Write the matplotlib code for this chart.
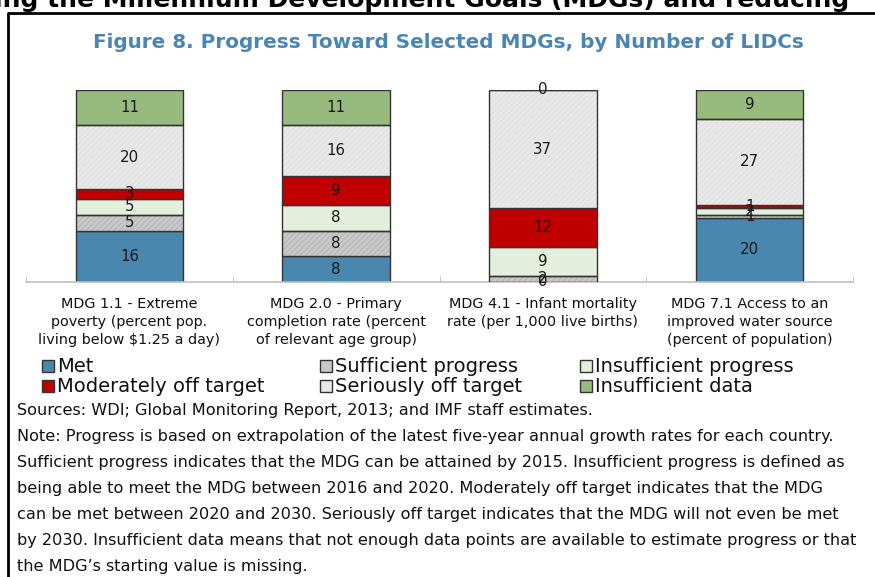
import matplotlib
matplotlib.use('Agg')
import matplotlib.pyplot as plt
from matplotlib.patches import Rectangle
from matplotlib.lines import Line2D
import numpy as np

plt.rcParams['font.family'] = ['DejaVu Sans']

# Dados do gráfico (número de LIDCs)
categories = [
    "MDG 1.1 - Extreme\npoverty (percent pop.\nliving below $1.25 a day)",
    "MDG 2.0 - Primary\ncompletion rate (percent\nof relevant age group)",
    "MDG 4.1 - Infant mortality\nrate (per 1,000 live births)\n",
    "MDG 7.1 Access to an\nimproved water source\n(percent of population)",
]
series_names = ["Met", "Sufficient progress", "Insufficient progress",
                "Moderately off target", "Seriously off target", "Insufficient data"]
met = [16, 8, 0, 20]
sufficient = [5, 8, 2, 1]
insufficient = [5, 8, 9, 2]
moderately = [3, 9, 12, 1]
seriously = [20, 16, 37, 27]
no_data = [11, 11, 0, 9]

series_values = [met, sufficient, insufficient, moderately, seriously, no_data]
colors = ['#4A87AE', '#C9C9C9', '#E4EEDC', '#C00000', '#E9E9E9', '#97BB7C']
hatches = [None, '//////', None, None, '//////', None]
hatch_colors = [None, '#B4B4B4', None, None, '#DEDEDE', None]

W, H = 875, 577
fig = plt.figure(figsize=(W / 100, H / 100), dpi=100)


def fx(x):
    return x / W


def fy(y):
    return 1 - y / H


ax = fig.add_axes([fx(26), fy(282), fx(853) - fx(26), fy(90) - fy(282)])
x = np.arange(len(categories))
bottom = np.zeros(len(categories))
width = 0.52
plt.rcParams['hatch.linewidth'] = 0.8
for vals, col, hat, hcol in zip(series_values, colors, hatches, hatch_colors):
    vals = np.array(vals, dtype=float)
    if hat:
        ax.bar(x, vals, width, bottom=bottom, color=col, edgecolor=hcol,
               hatch=hat, linewidth=0, zorder=2)
        ax.bar(x, vals, width, bottom=bottom, fill=False, edgecolor='#333333',
               linewidth=1.0, zorder=3)
    else:
        ax.bar(x, vals, width, bottom=bottom, color=col, edgecolor='#333333',
               linewidth=1.0, zorder=2)
    for xi, b, v in zip(x, bottom, vals):
        ax.text(xi, b + v / 2, f"{int(v)}", ha='center', va='center',
                fontsize=10.8, color='#1a1a1a', zorder=4, clip_on=False)
    bottom += vals

ax.set_xlim(-0.5, 3.5)
ax.set_ylim(0, 60)
for s in ['top', 'left', 'right']:
    ax.spines[s].set_visible(False)
ax.spines['bottom'].set_color('#BFBFBF')
ax.spines['bottom'].set_linewidth(1.2)
ax.set_yticks([])
ax.set_xticks(x)
ax.set_xticklabels(categories, fontsize=10.4, linespacing=1.35, color='#111111')
ax.tick_params(axis='x', which='major', length=0, pad=11)
ax.set_xticks(np.arange(-0.5, 4.0, 1.0), minor=True)
ax.tick_params(axis='x', which='minor', direction='in', length=4, color='#BFBFBF')
ax.patch.set_visible(False)

# Legenda manual (2 linhas x 3 colunas)
leg_pos = [(42, 366), (320, 366), (580, 366), (42, 386), (320, 386), (580, 386)]
for name, col, (lx, ly) in zip(series_names, colors, leg_pos):
    fig.patches.append(Rectangle((fx(lx), fy(ly + 6)), fx(12), 12 / H, transform=fig.transFigure,
                                 facecolor=col, edgecolor='#333333', linewidth=1.0))
    fig.text(fx(lx + 15), fy(ly), name, fontsize=14, va='center', ha='left', color='#111111')

# Título
fig.text(fx(448), fy(42), "Figure 8. Progress Toward Selected MDGs, by Number of LIDCs",
         fontsize=14.4, fontweight='bold', color='#4A86B4', ha='center', va='center')

# Cabeçalho cortado do documento
fig.text(fx(-6), fy(7), "ing the Millennium Development Goals (MDGs) and reducing",
         fontsize=18, fontweight='bold', color='black', ha='left', va='baseline')

# Moldura
fig.lines.append(Line2D([fx(8), fx(8), fx(880)], [fy(580), fy(13), fy(13)],
                        transform=fig.transFigure, color='black', linewidth=2))

notes = [
    "Sources: WDI; Global Monitoring Report, 2013; and IMF staff estimates.",
    "Note: Progress is based on extrapolation of the latest five-year annual growth rates for each country.",
    "Sufficient progress indicates that the MDG can be attained by 2015. Insufficient progress is defined as",
    "being able to meet the MDG between 2016 and 2020. Moderately off target indicates that the MDG",
    "can be met between 2020 and 2030. Seriously off target indicates that the MDG will not even be met",
    "by 2030. Insufficient data means that not enough data points are available to estimate progress or that",
    "the MDG\u2019s starting value is missing.",
]
ny = [410, 436, 462, 488, 514, 540, 566]
for t, yy in zip(notes, ny):
    fig.text(fx(17), fy(yy), t, fontsize=11.6, va='center', ha='left', color='#111111')

fig.savefig('out.png', dpi=100)
